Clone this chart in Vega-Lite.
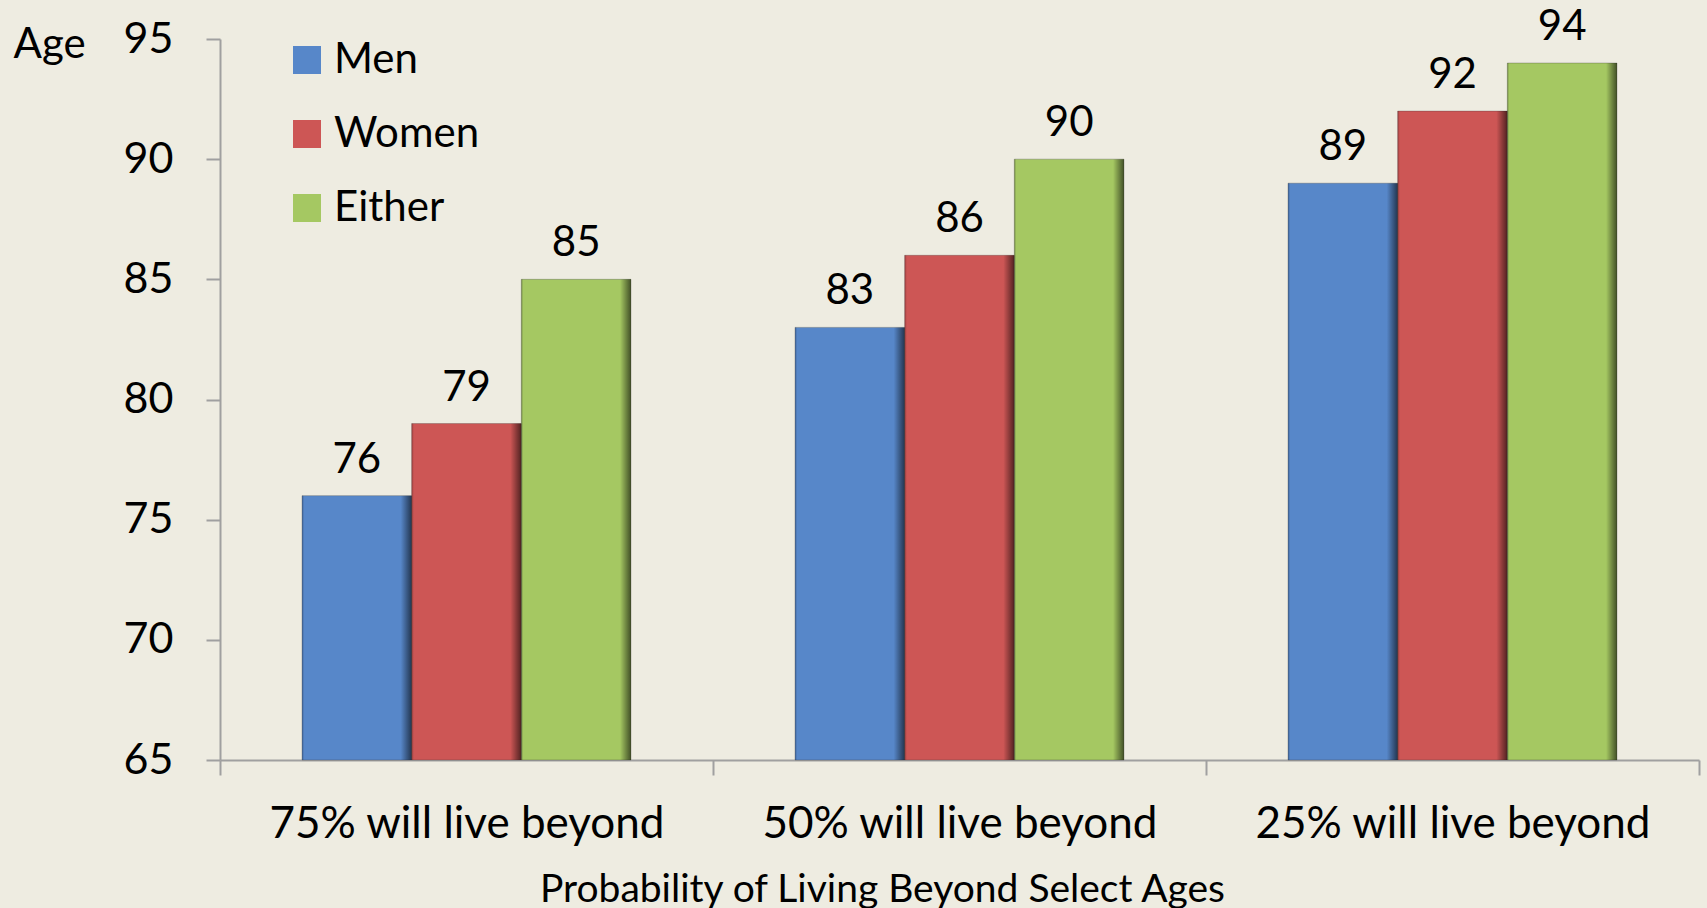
{
  "$schema": "https://vega.github.io/schema/vega-lite/v6.json",
  "width": 1479,
  "height": 721,
  "autosize": {"type": "none"},
  "padding": {"left": 220, "top": 39, "right": 8, "bottom": 148},
  "background": "#EEECE1",
  "config": {
    "view": {"stroke": null},
    "font": "Lato",
    "axis": {
      "domainColor": "#A0A0A0",
      "tickColor": "#A0A0A0",
      "domainWidth": 2,
      "tickWidth": 2,
      "labelColor": "#000000",
      "titleColor": "#000000",
      "grid": false
    }
  },
  "data": {
    "values": [
      {"group": "75% will live beyond", "series": "Men", "age": 76},
      {"group": "75% will live beyond", "series": "Women", "age": 79},
      {"group": "75% will live beyond", "series": "Either", "age": 85},
      {"group": "50% will live beyond", "series": "Men", "age": 83},
      {"group": "50% will live beyond", "series": "Women", "age": 86},
      {"group": "50% will live beyond", "series": "Either", "age": 90},
      {"group": "25% will live beyond", "series": "Men", "age": 89},
      {"group": "25% will live beyond", "series": "Women", "age": 92},
      {"group": "25% will live beyond", "series": "Either", "age": 94}
    ]
  },
  "encoding": {
    "x": {
      "field": "group",
      "type": "nominal",
      "sort": ["75% will live beyond", "50% will live beyond", "25% will live beyond"],
      "scale": {"paddingInner": 0, "paddingOuter": 0},
      "axis": {
        "title": "Probability of Living Beyond Select Ages",
        "titleFontSize": 39,
        "titleFontWeight": "normal",
        "titleBaseline": "alphabetic",
        "titleAlign": "center",
        "titleX": 662,
        "titleY": 141,
        "labelFontSize": 44,
        "labelAngle": 0,
        "labelLimit": 0,
        "labelBaseline": "alphabetic",
        "tickSize": 15,
        "labelPadding": 62,
        "tickBand": "extent"
      }
    },
    "xOffset": {
      "field": "series",
      "type": "nominal",
      "sort": ["Men", "Women", "Either"],
      "scale": {"domain": ["Men", "Women", "Either"], "paddingInner": 0, "paddingOuter": 0.748}
    },
    "y": {
      "field": "age",
      "type": "quantitative",
      "scale": {"domain": [65, 95], "nice": false, "zero": false},
      "axis": {
        "values": [65, 70, 75, 80, 85, 90, 95],
        "tickSize": 14,
        "labelPadding": 33,
        "labelFontSize": 43,
        "title": "Age",
        "titleAngle": 0,
        "titleX": -207,
        "titleY": 18,
        "titleAlign": "left",
        "titleBaseline": "alphabetic",
        "titleFontSize": 42,
        "titleFontWeight": "normal"
      }
    }
  },
  "layer": [
    {
      "mark": {"type": "bar", "stroke": "#3a3a3a", "strokeWidth": 0.5, "strokeOpacity": 0.6},
      "encoding": {
        "y2": {"datum": 65},
        "color": {
          "field": "series",
          "type": "nominal",
          "scale": {"domain": ["Men", "Women", "Either"], "range": ["#5787C9", "#CD5655", "#A5C862"]},
          "legend": {
            "orient": "none",
            "legendX": 66,
            "legendY": 0,
            "title": null,
            "symbolType": "square",
            "symbolSize": 784,
            "symbolStrokeWidth": 0,
            "labelFontSize": 42,
            "labelColor": "#000000",
            "rowPadding": 32,
            "labelOffset": 6,
            "padding": 0
          }
        }
      }
    },
    {
      "mark": {
        "type": "bar",
        "fill": {
          "gradient": "linear",
          "x1": 0, "x2": 1, "y1": 0, "y2": 0,
          "stops": [
            {"offset": 0, "color": "rgba(0,0,0,0.25)"},
            {"offset": 0.02, "color": "rgba(0,0,0,0)"},
            {"offset": 0.9, "color": "rgba(0,0,0,0)"},
            {"offset": 1, "color": "rgba(0,0,0,0.6)"}
          ]
        }
      },
      "encoding": {"y2": {"datum": 65}}
    },
    {
      "mark": {"type": "text", "dy": -23, "baseline": "alphabetic", "fontSize": 42, "color": "#000000"},
      "encoding": {"text": {"field": "age", "type": "quantitative"}}
    }
  ]
}
